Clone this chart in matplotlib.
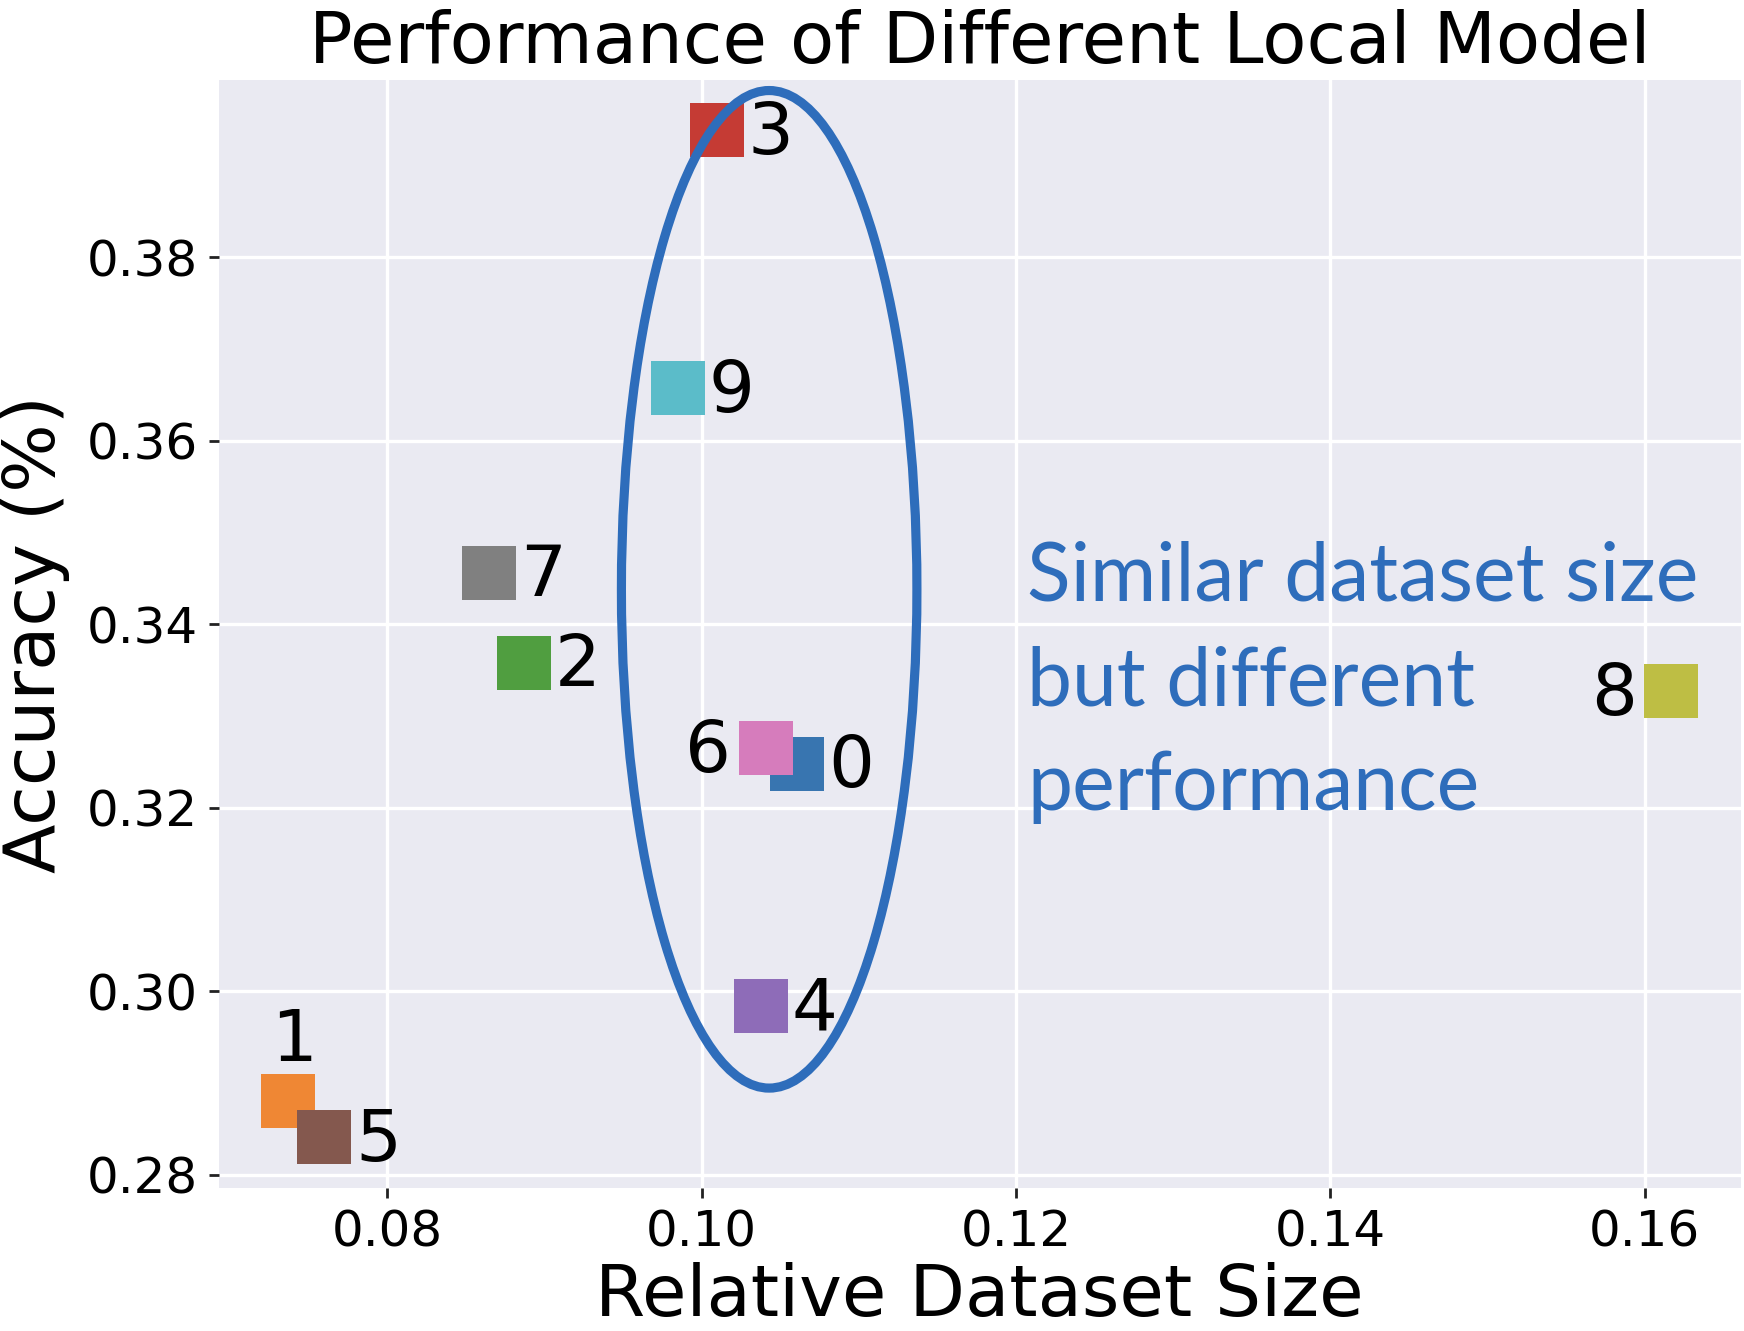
import matplotlib
matplotlib.use("Agg")
import matplotlib.pyplot as plt
from matplotlib.patches import Ellipse
import matplotlib.ticker as mticker

# ---- data ----
client_ids = ["0", "1", "2", "3", "4", "5", "6", "7", "8", "9"]
dataset_size = [0.1061, 0.0737, 0.0887, 0.1010, 0.1038, 0.0760, 0.1041, 0.0865, 0.1617, 0.0985]
accuracy = [0.3248, 0.2880, 0.3358, 0.3938, 0.2984, 0.2841, 0.3265, 0.3456, 0.3327, 0.3657]
label_side = ["right", "top", "right", "right", "right", "right", "left", "right", "left", "right"]
x_ticks = [0.08, 0.10, 0.12, 0.14, 0.16]
y_ticks = [0.28, 0.30, 0.32, 0.34, 0.36, 0.38]
annotation_lines = ["Similar dataset size", "but different", "performance"]

colors = ["#3875b0", "#ef8734", "#509e40", "#c53b34", "#8e6cb8",
          "#84584e", "#d67cbc", "#808080", "#bebe44", "#5bbcc9"]
highlight = "#2e6dbb"

fig = plt.figure(figsize=(8.72, 6.655), dpi=200)
ax = fig.add_axes([0.1256, 0.1078, 0.8724, 0.832])
ax.set_facecolor("#eaeaf2")
for s in ax.spines.values():
    s.set_visible(False)
ax.grid(True, color="white", linewidth=1.2)
ax.set_axisbelow(True)

for i, cid in enumerate(client_ids):
    ax.scatter(dataset_size[i], accuracy[i], marker="s", s=370, color=colors[i],
               linewidths=0, zorder=3)
    side = label_side[i]
    if side == "right":
        off, ha, va = (11, -1.5), "left", "center"
    elif side == "left":
        off, ha, va = (-12.5, -1.5), "right", "center"
    else:
        off, ha, va = (2, 9), "center", "bottom"
    ax.annotate(cid, (dataset_size[i], accuracy[i]), xytext=off, textcoords="offset points",
                ha=ha, va=va, fontsize=26, color="black", zorder=4)

ax.margins(0.05)
ax.autoscale_view()
xl, yl = ax.get_xlim(), ax.get_ylim()
ax.set_xlim(xl)
ax.set_ylim(yl)

ax.set_xticks(x_ticks)
ax.set_yticks(y_ticks)
ax.xaxis.set_major_formatter(mticker.FormatStrFormatter("%.2f"))
ax.yaxis.set_major_formatter(mticker.FormatStrFormatter("%.2f"))
ax.tick_params(axis="both", labelsize=18, length=3.5, width=1, color="#222222", pad=4)
ax.set_xlabel("Relative Dataset Size", fontsize=26, labelpad=2)
ax.set_ylabel("Accuracy (%)", fontsize=26, labelpad=6)
ax.set_title("Performance of Different Local Model", fontsize=26, pad=6)

ell = Ellipse((0.1043, 0.3438), width=0.0188, height=0.1087, fill=False,
              edgecolor=highlight, linewidth=3.3, zorder=5)
ax.add_patch(ell)

line_pitch = 37.6  # points between baselines
n = len(annotation_lines)
for k, line in enumerate(annotation_lines):
    ax.annotate(line, (0.1207, 0.3198), xytext=(0, (n - 1 - k) * line_pitch),
                textcoords="offset points", fontsize=29, color=highlight, family="Lato",
                ha="left", va="baseline", zorder=4)

fig.savefig("out.png", dpi=200)
